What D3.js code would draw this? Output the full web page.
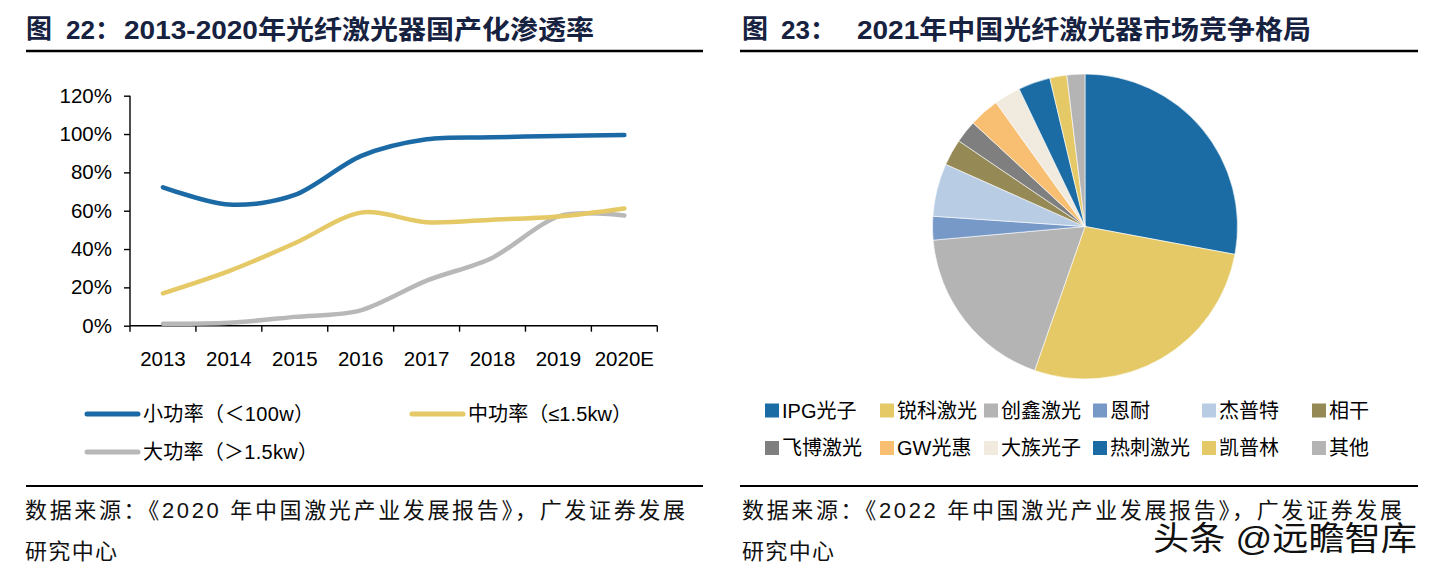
<!DOCTYPE html>
<html><head><meta charset="utf-8">
<script src="https://cdn.jsdelivr.net/npm/d3@7"></script>
<style>
html,body{margin:0;padding:0;background:#fff;}
svg{display:block;}
text{font-family:"Liberation Sans","Noto Sans CJK SC",Arial,sans-serif;}
</style></head>
<body>
<svg id="c" width="1434" height="572"></svg>
<script>
// ---------- data ----------
const years = ["2013","2014","2015","2016","2017","2018","2019","2020E"];
const smallPower = [72.2, 63.2, 68.2, 88.5, 97.3, 98.3, 99.0, 99.5];
const midPower   = [16.9, 28.5, 43.0, 59.0, 54.0, 55.3, 57.0, 61.2];
const largePower = [1.0, 1.5, 4.6, 8.0, 23.5, 35.5, 57.0, 57.5];
const lineNames  = ["小功率（＜100w）", "中功率（≤1.5kw）", "大功率（＞1.5kw）"];
const yTicks = [0, 20, 40, 60, 80, 100, 120];

const pieNames  = ["IPG光子","锐科激光","创鑫激光","恩耐","杰普特","相干","飞博激光","GW光惠","大族光子","热刺激光","凯普林","其他"];
const pieShares = [27.9, 27.4, 18.2, 2.5, 5.6, 2.8, 2.4, 3.2, 2.8, 3.4, 1.8, 1.9];

// ---------- styles ----------
const lineColors = ["#1B6AA5", "#E5C967", "#B8B8B8"];
const pieColors = ["#1B6CA4","#E4C966","#B4B4B4","#7699C8","#B8CDE4","#958A55","#7F7F7F","#F8BF72","#F1EADE","#1B6CA4","#E4C966","#B4B4B4"];
const titleColor = "#16223F";

const svg = d3.select("#c");

// ---------- titles & rules ----------
function title(x0, numX, rest, restX, restLen) {
  svg.append("text").attr("x", x0).attr("y", 38).attr("font-size", 26).attr("font-weight", "bold")
    .attr("fill", titleColor).attr("font-family", "'Noto Sans CJK SC',sans-serif").text("图");
  svg.append("text").attr("x", numX).attr("y", 39).attr("font-size", 26).attr("font-weight", "bold")
    .attr("fill", titleColor).text(rest[0]);
  svg.append("text").attr("x", restX).attr("y", 39).attr("font-size", 26).attr("font-weight", "bold")
    .attr("fill", titleColor).attr("textLength", restLen).attr("lengthAdjust", "spacingAndGlyphs").text(rest[1]);
}
title(26, 66, ["22：", "2013-2020年光纤激光器国产化渗透率"], 124, 470);
title(742, 781, ["23：", "2021年中国光纤激光器市场竞争格局"], 857, 454);

[[26, 703], [740, 1418]].forEach(([a, b]) => {
  svg.append("line").attr("x1", a).attr("x2", b).attr("y1", 51).attr("y2", 51)
    .attr("stroke", "#000").attr("stroke-width", 2.4);
  svg.append("line").attr("x1", a).attr("x2", b).attr("y1", 486).attr("y2", 486)
    .attr("stroke", "#000").attr("stroke-width", 2.2);
});

// ---------- line chart ----------
const x = d3.scaleBand().domain(years).range([130, 657.3]).paddingInner(0).paddingOuter(0);
const y = d3.scaleLinear().domain([0, 120]).range([325.7, 95.7]);

const gy = svg.append("g").attr("transform", "translate(130,0)")
  .call(d3.axisLeft(y).tickValues(yTicks).tickSize(6).tickPadding(12).tickFormat(d => d + "%"));
const gx = svg.append("g").attr("transform", "translate(0,325.7)")
  .call(d3.axisBottom(x).tickSize(0).tickPadding(26));
// x ticks at band edges
const edges = years.map(d => x(d)).concat([x.range()[1]]);
svg.append("g").selectAll("line").data(edges).join("line")
  .attr("x1", d => d).attr("x2", d => d).attr("y1", 325.7).attr("y2", 331.7)
  .attr("stroke", "#000").attr("stroke-width", 1.4);
[gx, gy].forEach(g => {
  g.select(".domain").attr("stroke", "#000").attr("stroke-width", 1.4);
  g.selectAll(".tick line").attr("stroke", "#000").attr("stroke-width", 1.4);
  g.selectAll("text").attr("font-size", 20.5).attr("fill", "#000")
    .attr("font-family", "'Liberation Sans',Arial,sans-serif");
});
gy.select(".domain").attr("d", "M0,95.7V325.7");
gx.select(".domain").attr("d", "M130,0H657.3");

const lineGen = d3.line().x((d, i) => x(years[i]) + x.bandwidth() / 2).y(d => y(d))
  .curve(d3.curveCardinal.tension(0.1));
const series = [largePower, midPower, smallPower];
const seriesColors = [lineColors[2], lineColors[1], lineColors[0]];
svg.append("g").selectAll("path").data(series).join("path")
  .attr("d", d => lineGen(d)).attr("fill", "none")
  .attr("stroke", (d, i) => seriesColors[i]).attr("stroke-width", 4.5)
  .attr("stroke-linecap", "round").attr("stroke-linejoin", "round");

// legend (line chart)
const legPos = [[85, 414], [410, 414], [85, 452]];
const legLen = [171, 164, 175];
lineNames.forEach((n, i) => {
  const [lx, ly] = legPos[i];
  svg.append("line").attr("x1", lx + 2).attr("x2", lx + 53).attr("y1", ly).attr("y2", ly)
    .attr("stroke", lineColors[i]).attr("stroke-width", 5).attr("stroke-linecap", "round");
  svg.append("text").attr("x", lx + 58).attr("y", ly + 7).attr("font-size", 20)
    .attr("fill", "#000").attr("textLength", legLen[i]).attr("lengthAdjust", "spacing").text(n);
});

// ---------- pie ----------
const pie = d3.pie().sort(null).value(d => d)(pieShares);
const arc = d3.arc().innerRadius(0).outerRadius(152.5);
svg.append("g").attr("transform", "translate(1085,226.5)")
  .selectAll("path").data(pie).join("path")
  .attr("d", arc).attr("fill", (d, i) => pieColors[i])
  .attr("stroke", "#fff").attr("stroke-width", 0.6);

// legend (pie)
const colX = [765, 880, 984, 1093, 1202, 1312];
const rowY = [410.5, 448];
pieNames.forEach((n, i) => {
  const cx = colX[i % 6], cy = rowY[Math.floor(i / 6)];
  svg.append("rect").attr("x", cx).attr("y", cy - 7).attr("width", 14).attr("height", 14)
    .attr("fill", pieColors[i]);
  svg.append("text").attr("x", cx + 17).attr("y", cy + 7).attr("font-size", 20)
    .attr("fill", "#000").text(n);
});

// ---------- sources ----------
function source(x0, t1, len) {
  svg.append("text").attr("x", x0).attr("y", 518).attr("font-size", 22).attr("fill", "#111")
    .attr("textLength", len).attr("lengthAdjust", "spacing").text(t1);
  svg.append("text").attr("x", x0).attr("y", 559).attr("font-size", 22).attr("fill", "#111")
    .attr("textLength", 92).attr("lengthAdjust", "spacing").text("研究中心");
}
source(25, "数据来源：《2020 年中国激光产业发展报告》，广发证券发展", 660);
source(742, "数据来源：《2022 年中国激光产业发展报告》，广发证券发展", 660);

// ---------- watermark ----------
const wm = "头条 @远瞻智库";
svg.append("text").attr("x", 1151).attr("y", 552).attr("font-size", 33).attr("fill", "#fff")
  .attr("textLength", 264).attr("lengthAdjust", "spacingAndGlyphs")
  .attr("font-family", "'Noto Sans CJK SC',sans-serif").text(wm);
svg.append("text").attr("x", 1153).attr("y", 550).attr("font-size", 33).attr("fill", "#111")
  .attr("textLength", 264).attr("lengthAdjust", "spacingAndGlyphs")
  .attr("font-family", "'Noto Sans CJK SC',sans-serif").text(wm);
</script>
</body></html>
